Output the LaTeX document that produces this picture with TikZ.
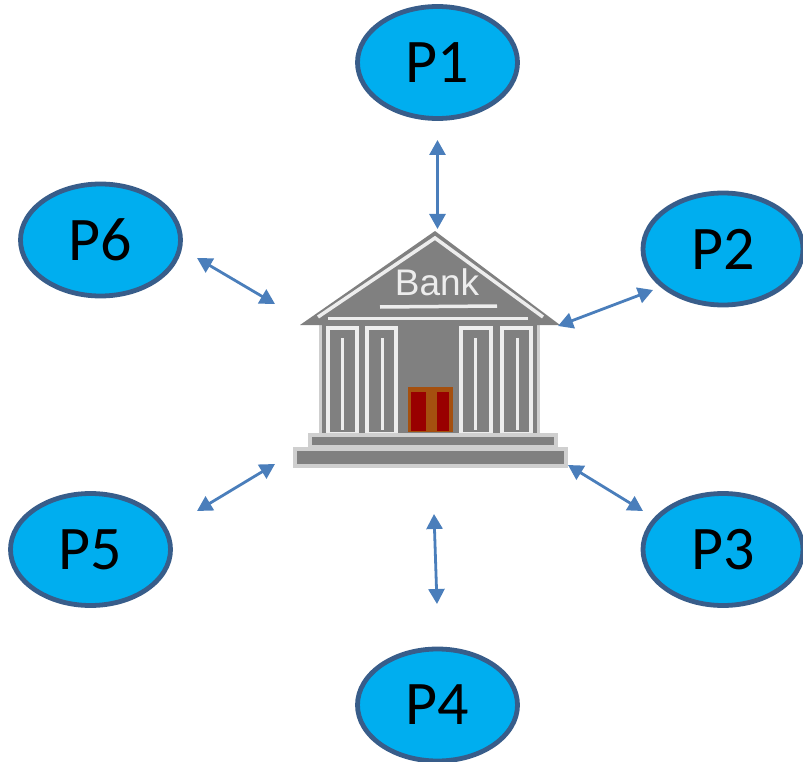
\documentclass[tikz,border=0pt]{standalone}
\usepackage{fontspec}
\setmainfont{Carlito}
\newfontfamily\bankfont{Liberation Sans}
\usetikzlibrary{arrows.meta,shapes.geometric}
\definecolor{partyfill}{HTML}{00AEEF}
\definecolor{partyedge}{HTML}{385D8A}
\definecolor{linkblue}{HTML}{4A7EBB}
\definecolor{bankgray}{HTML}{808080}
\definecolor{banklight}{HTML}{EDEDED}
\definecolor{bankedge}{HTML}{CFCFCF}
\definecolor{doorbrown}{HTML}{A5500F}
\definecolor{doorred}{HTML}{990000}
\newcommand{\ptext}[1]{\raisebox{-2.5pt}{#1}}
\tikzset{
  party/.style={ellipse,draw=partyedge,fill=partyfill,line width=4.8pt,minimum width=160pt,minimum height=112pt,inner sep=0pt,outer sep=0pt,text=black,font=\fontsize{62}{70}\selectfont},
  link/.style={draw=linkblue,line width=2.8pt,{Triangle[length=15pt,width=16pt]}-{Triangle[length=15pt,width=16pt]}},
  stone/.style={fill=bankgray,draw=bankedge,line width=3.5pt},
  trim/.style={draw=banklight,line width=3.5pt},
  column/.style={draw=banklight,line width=3.5pt,fill=bankgray},
}
\begin{document}
\begin{tikzpicture}[x=1pt,y=-1pt]
\useasboundingbox (0,0) rectangle (803,762);
% bank building
\fill[bankgray] (321,323) rectangle (537,434);
\draw[bankedge,line width=3pt] (320,325) -- (320,434) (538,325) -- (538,434);
\foreach \xa/\xb/\xc in {328/357/342,367/396/382,461/491/475,502/531/517}{
  \draw[column] (\xa,328) rectangle (\xb,434);
  \draw[trim,line width=3pt] (\xc,338) -- (\xc,430);
}
\fill[doorbrown] (408,387) rectangle (453,432);
\fill[doorred] (411,392) rectangle (426,431);
\fill[doorred] (437,392) rectangle (449,431);
\fill[bankgray] (435,231) -- (560,325) -- (300,325) -- cycle;
\draw[trim] (318,317) -- (435,238) -- (543,317);
\draw[trim] (328,318.5) -- (528,318.5);
\draw[trim] (380,307) -- (497,306);
\draw[stone] (310,435) rectangle (556,447);
\draw[stone] (295,449) rectangle (566,466);
\node[inner sep=0pt,text=banklight,font=\bankfont\fontsize{37}{40}\selectfont] (banklabel) at (437,282) {Bank};
% parties
\node[party] (p1) at (437.5,62.5) {\ptext{P1}};
\node[party] (p2) at (723,249) {\ptext{P2}};
\node[party] (p3) at (723,549.5) {\ptext{P3}};
\node[party] (p4) at (437.5,705) {\ptext{P4}};
\node[party] (p5) at (90.5,549.5) {\ptext{P5}};
\node[party] (p6) at (100.5,240) {\ptext{P6}};
% connector ends
\coordinate (a1) at (437.5,140);  \coordinate (b1) at (437.5,229);
\coordinate (a2) at (653,290);    \coordinate (b2) at (558,326);
\coordinate (a3) at (643,511);    \coordinate (b3) at (568,465);
\coordinate (a4) at (437,604);    \coordinate (b4) at (434,514);
\coordinate (a5) at (197,511);    \coordinate (b5) at (275,464);
\coordinate (a6) at (197,258);    \coordinate (b6) at (275,304);
\foreach \i in {1,...,6}{\draw[link] (a\i) -- (b\i);}
\end{tikzpicture}
\end{document}
